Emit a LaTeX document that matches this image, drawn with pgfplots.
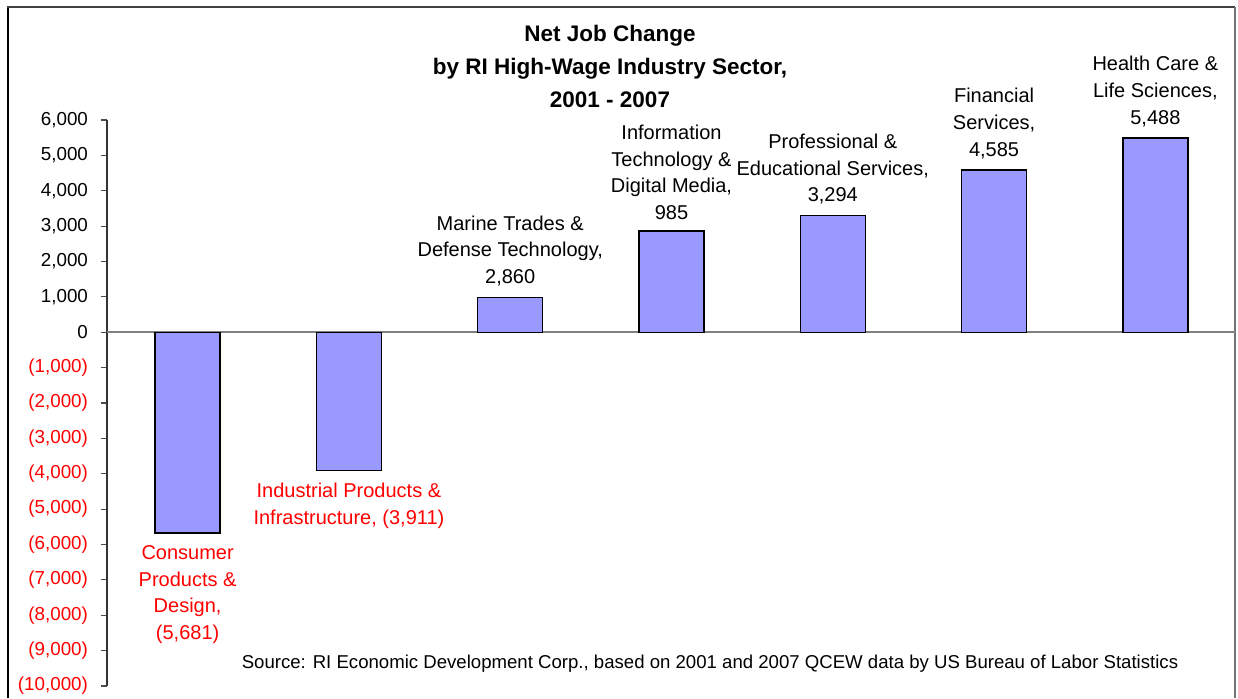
\documentclass[border=0pt]{standalone}
\usepackage{fontspec}
\setmainfont{Liberation Sans}
\usepackage{pgfplots}
\pgfplotsset{compat=1.18}
\definecolor{barfill}{RGB}{153,153,255}
\begin{document}
\begin{tikzpicture}
\useasboundingbox (0,0) rectangle (619pt,349pt);
% outer frame
\draw[black, line width=1pt] (4pt,0) -- (4pt,345.5pt);
\draw[black!75, line width=1pt] (3.5pt,345.5pt) -- (617.5pt,345.5pt);
\draw[black!55, line width=0.6pt] (617.5pt,345.5pt) -- (617.5pt,0);
\begin{axis}[
  anchor=south west, at={(53.5pt,6pt)},
  scale only axis, width=564.5pt, height=283pt,
  xmin=-0.5, xmax=6.5, ymin=-10000, ymax=6000,
  axis x line=none, axis y line*=left,
  y axis line style={black!80, line width=0.6pt},
  scaled y ticks=false,
  ytick={-10000,-9000,...,6000},
  yticklabels={{\color{red}(10,000)},{\color{red}(9,000)},{\color{red}(8,000)},{\color{red}(7,000)},{\color{red}(6,000)},{\color{red}(5,000)},{\color{red}(4,000)},{\color{red}(3,000)},{\color{red}(2,000)},{\color{red}(1,000)},0,{1,000},{2,000},{3,000},{4,000},{5,000},{6,000}},
  tick align=outside, major tick length=3pt, ytick pos=left,
  y tick style={black!70, line width=0.6pt},
  yticklabel style={font=\fontsize{9.4}{11}\selectfont, xshift=-3pt},
  extra y ticks={0}, extra y tick labels={},
  extra y tick style={grid=major, major grid style={black!50, line width=0.8pt}, major tick length=0pt},
  ybar, clip=false,
  point meta=explicit symbolic,
  nodes near coords,
  every node near coord/.append style={align=center, font=\fontsize{10}{13.3}\selectfont},
]
\addplot[fill=barfill, draw=black, line width=0.75pt, bar width=32.5pt, bar shift=0pt,
  every node near coord/.append style={text=red, anchor=north, yshift=-2.5pt}]
  coordinates {
   (0,-5681) [{Consumer\\Products \&\\Design,\\(5,681)}]
   (1,-3911) [{Industrial Products \&\\Infrastructure, (3,911)}]
  };
\addplot[fill=barfill, draw=black, line width=0.75pt, bar width=32.5pt, bar shift=0pt,
  every node near coord/.append style={yshift=2pt}]
  coordinates {
   (2,985) [{Marine Trades \&\\Defense Technology,\\2,860}]
   (3,2860) [{Information\\Technology \&\\Digital Media,\\985}]
   (4,3294) [{Professional \&\\Educational Services,\\3,294}]
   (5,4585) [{Financial\\Services,\\4,585}]
   (6,5488) [{Health Care \&\\Life Sciences,\\5,488}]
  };
\end{axis}
\node[align=center, font=\bfseries\fontsize{11.25}{16.5}\selectfont] at (305pt,316pt)
  {Net Job Change\\by RI High-Wage Industry Sector,\\2001 - 2007};
\node[font=\fontsize{9.3}{11}\selectfont] at (355pt,17pt)
  {Source: RI Economic Development Corp., based on 2001 and 2007 QCEW data by US Bureau of Labor Statistics};
\end{tikzpicture}
\end{document}
